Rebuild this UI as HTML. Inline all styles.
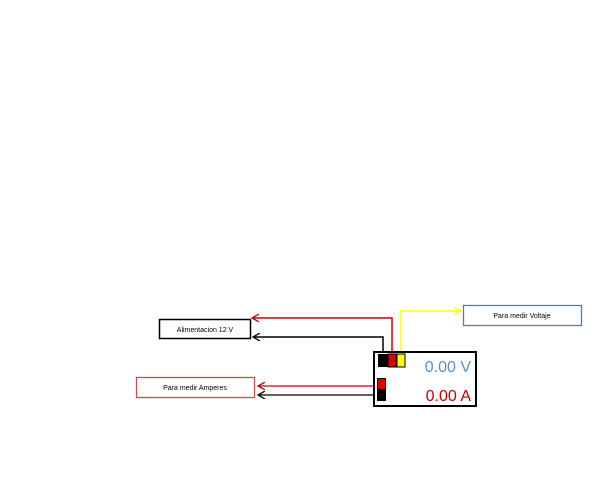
<!DOCTYPE html>
<html><head><style>body{margin:0;background:#fff;width:600px;height:480px;overflow:hidden}</style></head><body>
<svg width="600" height="480" xmlns="http://www.w3.org/2000/svg" font-family="Liberation Sans, sans-serif">
<defs>
<marker id="ar" markerWidth="8" markerHeight="8" refX="7" refY="4" orient="auto" markerUnits="userSpaceOnUse"><path d="M0,0 L7,4 L0,8" fill="none" stroke="#c00000" stroke-width="1.3"/></marker>
<marker id="ak" markerWidth="8" markerHeight="8" refX="7" refY="4" orient="auto" markerUnits="userSpaceOnUse"><path d="M0,0 L7,4 L0,8" fill="none" stroke="#000" stroke-width="1.3"/></marker>
<marker id="ay" markerWidth="8" markerHeight="8" refX="7" refY="4" orient="auto" markerUnits="userSpaceOnUse"><path d="M0,0 L7,4 L0,8" fill="none" stroke="#ffff00" stroke-width="1.3"/></marker>
</defs>
<rect x="159.5" y="319.5" width="91" height="19" fill="#fff" stroke="#000" stroke-width="1.5"/>
<text x="205" y="332" font-size="7" text-anchor="middle">Alimentacion 12 V</text>
<rect x="463.5" y="305.5" width="118" height="20" fill="#fff" stroke="#4a7ebb" stroke-width="1.3"/>
<text x="522" y="318" font-size="7" text-anchor="middle">Para medir  Voltaje</text>
<rect x="136.5" y="377.5" width="118" height="20" fill="#fff" stroke="#c0504d" stroke-width="1.3"/>
<text x="195" y="390" font-size="7" text-anchor="middle">Para medir  Amperes</text>
<polyline points="392,355 392,318 252,318" fill="none" stroke="#d00000" stroke-width="1.5" marker-end="url(#ar)"/>
<polyline points="383,355 383,337 253,337" fill="none" stroke="#000" stroke-width="1.5" marker-end="url(#ak)"/>
<polyline points="401,355 401,311 461,311" fill="none" stroke="#ffff00" stroke-width="1.5" marker-end="url(#ay)"/>
<line x1="377" y1="386" x2="258" y2="386" stroke="#d00000" stroke-width="1.2" marker-end="url(#ar)"/>
<line x1="377" y1="395" x2="258" y2="395" stroke="#000" stroke-width="1.2" marker-end="url(#ak)"/>
<rect x="374" y="352" width="102" height="54" fill="#fff" stroke="#000" stroke-width="2"/>
<rect x="378" y="354" width="10" height="13" fill="#000"/>
<rect x="388" y="354" width="8" height="13" fill="#e00000" stroke="#000" stroke-width="1"/>
<rect x="397" y="354" width="8" height="13" fill="#ffff00" stroke="#000" stroke-width="1"/>
<rect x="377.5" y="378.5" width="8" height="11" fill="#e00000" stroke="#000" stroke-width="1"/>
<rect x="377" y="389" width="9" height="12" fill="#000"/>
<text x="471" y="372" font-size="16" text-anchor="end" fill="#5b8fc7">0.00 V</text>
<text x="471" y="401" font-size="16" text-anchor="end" fill="#c00000">0.00 A</text>
</svg>
</body></html>
